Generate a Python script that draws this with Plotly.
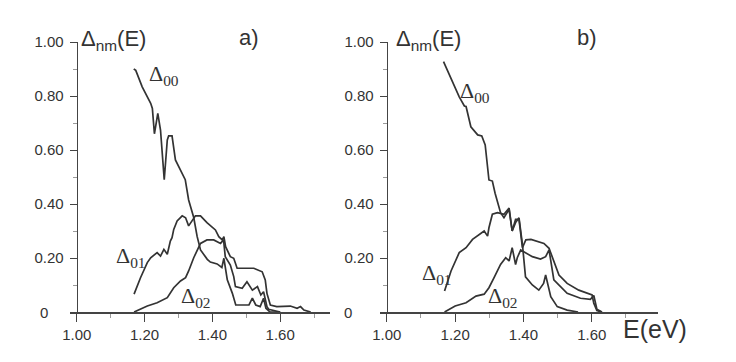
import plotly.graph_objects as go

# ---------------- data ----------------
# panel a)
e_a00 = [1.168, 1.174, 1.193, 1.218, 1.223, 1.229, 1.239, 1.247, 1.258, 1.267, 1.271, 1.281,
         1.291, 1.306, 1.320, 1.330, 1.345, 1.355, 1.365, 1.385, 1.394, 1.414, 1.428, 1.434,
         1.444, 1.459, 1.469, 1.508, 1.518, 1.528, 1.541, 1.551, 1.558, 1.570, 1.600]
d_a00 = [0.900, 0.895, 0.834, 0.773, 0.754, 0.660, 0.736, 0.674, 0.490, 0.637, 0.652, 0.652,
         0.563, 0.526, 0.490, 0.415, 0.350, 0.280, 0.230, 0.195, 0.185, 0.178, 0.165, 0.199,
         0.119, 0.069, 0.026, 0.026, 0.051, 0.026, 0.020, 0.051, 0.014, 0.0, 0.0]

e_a01 = [1.169, 1.188, 1.208, 1.218, 1.237, 1.247, 1.257, 1.267, 1.276, 1.281, 1.286, 1.296,
         1.311, 1.321, 1.330, 1.340, 1.350, 1.365, 1.384, 1.409, 1.419, 1.429, 1.434, 1.439,
         1.453, 1.463, 1.473, 1.493, 1.522, 1.547, 1.556, 1.561, 1.571, 1.590, 1.630, 1.650,
         1.660, 1.670, 1.690]
d_a01 = [0.066, 0.127, 0.183, 0.201, 0.220, 0.207, 0.232, 0.214, 0.263, 0.275, 0.306, 0.337,
         0.356, 0.349, 0.319, 0.337, 0.356, 0.356, 0.331, 0.304, 0.279, 0.267, 0.279, 0.242,
         0.205, 0.199, 0.162, 0.162, 0.162, 0.149, 0.119, 0.069, 0.026, 0.020, 0.022, 0.014,
         0.020, 0.007, 0.0]

e_a02 = [1.169, 1.208, 1.237, 1.267, 1.286, 1.306, 1.321, 1.330, 1.345, 1.365, 1.384, 1.404,
         1.424, 1.433, 1.438, 1.453, 1.463, 1.468, 1.488, 1.502, 1.518, 1.533, 1.543, 1.551,
         1.561, 1.566, 1.600]
d_a02 = [0.0, 0.022, 0.034, 0.053, 0.090, 0.115, 0.127, 0.152, 0.201, 0.254, 0.267, 0.267,
         0.254, 0.267, 0.205, 0.174, 0.131, 0.094, 0.088, 0.112, 0.081, 0.094, 0.063, 0.075,
         0.020, 0.010, 0.0]

# panel b)
e_b00 = [1.166, 1.212, 1.227, 1.232, 1.246, 1.266, 1.278, 1.288, 1.299, 1.309, 1.317, 1.324,
         1.333, 1.343, 1.358, 1.367, 1.377, 1.387, 1.397, 1.406, 1.426, 1.445, 1.459, 1.465,
         1.470, 1.480, 1.499, 1.528, 1.560]
d_b00 = [0.927, 0.797, 0.763, 0.761, 0.686, 0.656, 0.652, 0.619, 0.489, 0.485, 0.440, 0.410,
         0.368, 0.349, 0.380, 0.300, 0.331, 0.349, 0.251, 0.130, 0.100, 0.081, 0.106, 0.137,
         0.106, 0.057, 0.020, 0.007, 0.0]

e_b01 = [1.169, 1.188, 1.212, 1.232, 1.251, 1.270, 1.285, 1.295, 1.299, 1.309, 1.324, 1.343,
         1.358, 1.367, 1.377, 1.387, 1.397, 1.407, 1.422, 1.460, 1.475, 1.504, 1.528, 1.562,
         1.587, 1.601, 1.606, 1.615, 1.630]
d_b01 = [0.078, 0.152, 0.220, 0.238, 0.269, 0.288, 0.300, 0.281, 0.312, 0.362, 0.368, 0.362,
         0.385, 0.300, 0.343, 0.343, 0.238, 0.267, 0.269, 0.254, 0.236, 0.137, 0.106, 0.081,
         0.069, 0.063, 0.032, 0.005, 0.0]

e_b02 = [1.169, 1.200, 1.232, 1.261, 1.285, 1.299, 1.314, 1.333, 1.348, 1.358, 1.367, 1.377,
         1.382, 1.392, 1.426, 1.450, 1.465, 1.475, 1.489, 1.528, 1.567, 1.596, 1.606, 1.615,
         1.630]
d_b02 = [0.0, 0.022, 0.034, 0.059, 0.066, 0.090, 0.127, 0.176, 0.201, 0.189, 0.238, 0.176,
         0.201, 0.230, 0.205, 0.196, 0.205, 0.230, 0.119, 0.069, 0.051, 0.047, 0.061, 0.010,
         0.0]

y_tickvals = [0.0, 0.2, 0.4, 0.6, 0.8, 1.0]
y_ticktext = ["", "0.20", "0.40", "0.60", "0.80", "1.00"]
x_tickvals = [1.0, 1.2, 1.4, 1.6]
x_ticktext = ["1.00", "1.20", "1.40", "1.60"]

# ---------------- figure ----------------
W, H = 736, 362
LINE = "#333333"
AX = "#444444"
TXT = "#333333"

def px(x):
    return x / W

def py(y):
    return 1 - y / H

fig = go.Figure()

series = [("x", "y", e_a00, d_a00), ("x", "y", e_a01, d_a01), ("x", "y", e_a02, d_a02),
          ("x2", "y2", e_b00, d_b00), ("x2", "y2", e_b01, d_b01), ("x2", "y2", e_b02, d_b02)]
for xa, ya, e, d in series:
    fig.add_trace(go.Scatter(x=e, y=d, xaxis=xa, yaxis=ya, mode="lines",
                             line=dict(color=LINE, width=1.7), showlegend=False,
                             hoverinfo="skip"))

ydom = [py(312), py(42)]
font_tick = dict(family="Liberation Sans, Arial, sans-serif", size=15, color=TXT)

def xaxis_cfg(dom, rng, anchor):
    return dict(domain=dom, range=rng, anchor=anchor, showline=True, linecolor=AX,
                linewidth=1.5, showgrid=False, zeroline=False, ticks="outside",
                ticklen=8, tickwidth=1, tickcolor=AX, tickvals=x_tickvals,
                ticktext=x_ticktext, tickfont=font_tick, automargin=False,
                minor=dict(tickvals=[1.1, 1.3, 1.5, 1.7], ticks="outside", ticklen=4,
                           tickcolor="#9a9a9a", tickwidth=1))

def yaxis_cfg(pos):
    return dict(domain=ydom, range=[0, 1.0], anchor="free", position=pos, showline=True,
                linecolor=AX, linewidth=1.5, showgrid=False, zeroline=False,
                ticks="outside", ticklen=7, tickwidth=1, tickcolor=AX,
                tickvals=y_tickvals, ticktext=y_ticktext, tickfont=font_tick,
                ticklabelstandoff=3, automargin=False,
                minor=dict(tickvals=[0.1, 0.3, 0.5, 0.7, 0.9], ticks="outside",
                           ticklen=4, tickcolor="#9a9a9a", tickwidth=1))

fig.update_layout(
    width=W, height=H, margin=dict(l=0, r=0, t=0, b=0, autoexpand=False),
    paper_bgcolor="white", plot_bgcolor="rgba(0,0,0,0)",
    xaxis=xaxis_cfg([px(70), px(330)], [0.980, 1.747], "y"),
    yaxis=yaxis_cfg(px(76.7)),
    xaxis2=xaxis_cfg([px(380), px(658)], [0.980, 1.794], "y2"),
    yaxis2=yaxis_cfg(px(386.7)),
)

sans = "Liberation Sans, Arial, sans-serif"
serif = "Liberation Serif, Times New Roman, serif"
ann = []

def add(text, x, y, size, family, xanchor="left", yanchor="middle"):
    ann.append(dict(text=text, x=px(x), y=py(y), xref="paper", yref="paper",
                    showarrow=False, xanchor=xanchor, yanchor=yanchor,
                    font=dict(family=family, size=size, color=TXT)))

# zero labels of the y axes
add("0", 43.5, 312, 15, sans, xanchor="center")
add("0", 348, 312, 15, sans, xanchor="center")
# axis titles / panel letters
add("Δ<sub>nm</sub>(E)", 79, 40, 22, sans)
add("Δ<sub>nm</sub>(E)", 394, 40, 22, sans)
add("a)", 237, 38, 22, sans)
add("b)", 575, 38, 22, sans)
add("E(eV)", 621, 329, 25, sans)
# curve labels
add("Δ<sub>00</sub>", 147, 75, 22, serif)
add("Δ<sub>01</sub>", 114, 257, 22, serif)
add("Δ<sub>02</sub>", 179, 297, 22, serif)
add("Δ<sub>00</sub>", 458, 92, 22, serif)
add("Δ<sub>01</sub>", 420, 274, 22, serif)
add("Δ<sub>02</sub>", 486, 297, 22, serif)

fig.update_layout(annotations=ann)
fig.write_html("out.html", config={"displayModeBar": False, "staticPlot": True},
               post_script="document.body.style.margin='0px';")
